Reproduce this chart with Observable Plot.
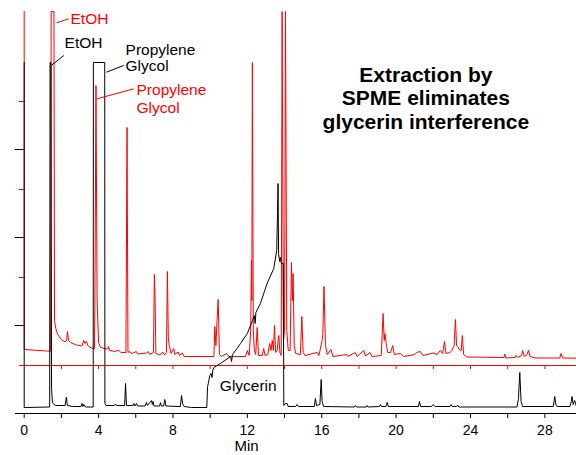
<!DOCTYPE html>
<html><head><meta charset="utf-8">
<script src="https://cdn.jsdelivr.net/npm/d3@7"></script>
<script src="https://cdn.jsdelivr.net/npm/@observablehq/plot@0.6"></script>
<style>body{margin:0;background:#fff;} svg{display:block;}</style>
</head><body><div id="chart"></div>
<script>
// Retention time (min) and detector signal (arbitrary units)
// Red trace: SPME extraction (signal relative to its own baseline reference)
const redTrace = [
  [0,354],[0,16],[1.2,14.5],[1.42,14.3],[1.45,354],[1.60,354],[1.63,45],[1.70,37],[1.80,31],[2.0,26],
  [2.2,23.5],[2.28,25],[2.33,34],[2.38,25],[2.5,23],[2.8,20.5],[3.1,19.5],[3.2,25],[3.27,22],[3.35,24],
  [3.42,20],[3.6,17.5],[3.78,17],[3.80,60],[3.86,280],[3.92,65],[4.0,23],[4.1,18.3],[4.3,17],[4.5,16.5],
  [4.53,19],[4.6,15],[4.9,14],[5.07,15.5],[5.2,13],[5.47,13],[5.53,238],[5.58,13],[5.65,14],[5.8,12],
  [6.03,14],[6.1,11.5],[6.57,12.5],[6.67,14],[6.75,11],[6.95,13],[7.0,91],[7.04,65],[7.08,12],[7.3,10.5],
  [7.45,13.5],[7.55,10.5],[7.65,13],[7.70,94],[7.75,28],[7.80,20],[7.9,12],[8.04,17],[8.1,11],[8.28,13.5],
  [8.35,10],[8.5,12.5],[8.6,9],[10.2,9],[10.25,39],[10.31,20],[10.37,45],[10.43,66],[10.5,11],[10.6,9],
  [10.9,12],[11.0,9],[11.9,9],[12.0,15],[12.1,10],[12.18,35],[12.22,105],[12.24,65],[12.27,303],[12.32,35],
  [12.38,15],[12.45,11],[12.53,38],[12.6,10],[12.8,10],[12.88,17],[12.95,10],[13.1,11],[13.2,22],[13.27,15],
  [13.34,25],[13.4,15],[13.46,40],[13.52,13],[13.6,15],[13.69,30],[13.75,13],[13.82,10],[13.87,354],[13.94,25],
  [14.0,35],[14.05,354],[14.12,35],[14.2,15],[14.3,15],[14.37,103],[14.42,65],[14.46,92],[14.52,20],[14.6,12],
  [14.85,11],[14.93,49],[15.0,13],[15.1,10],[15.75,13],[15.85,10],[16.02,25],[16.06,32],[16.12,79],[16.2,20],
  [16.3,11],[16.5,16],[16.6,9],[17.33,11],[17.4,9],[17.8,13],[17.9,9],[18.26,15],[18.35,9.5],[18.6,13],
  [18.7,9],[19.2,10],[19.3,52],[19.36,25],[19.4,32],[19.48,20],[19.55,13],[19.7,13],[19.82,20],[19.9,11],
  [20.23,12],[20.4,9],[21.0,11],[21.1,13],[21.3,14],[21.45,10],[22.0,12.5],[22.2,11],[22.38,15],[22.5,12],
  [22.6,24],[22.68,12],[22.9,13],[23.0,15],[23.12,20],[23.19,46],[23.25,20],[23.31,19],[23.4,16],[23.5,15],
  [23.56,30],[23.63,11],[23.8,8.5],[25.8,8],[25.84,11.5],[25.9,7.5],[26.4,8],[26.45,10],[26.55,8],[26.75,10],
  [26.8,15],[26.9,9],[27.05,11],[27.12,15.5],[27.2,9],[27.5,7.5],[28.8,7.5],[28.87,12],[28.95,7.5],[29.7,7.3]
];
// Black trace: direct injection (glycerin interference)
const blackTrace = [
  [0,351],[0,6],[1.37,6.5],[1.39,351],[1.44,351],[1.47,25],[1.52,11],[1.6,9],[1.7,8],[2.2,8],
  [2.27,16.5],[2.32,8],[2.6,7],[3.05,7],[3.11,10],[3.16,7],[3.2,9],[3.3,6.5],[3.71,6.5],[3.72,351],
  [4.33,351],[4.34,10],[4.4,8],[4.85,8],[4.91,9.5],[4.96,8],[5.4,8],[5.45,30],[5.5,8],[5.85,8],
  [5.9,10],[5.95,7.5],[6.04,10],[6.1,7.5],[6.5,7.5],[6.57,11],[6.63,8],[6.85,13],[6.89,9],[6.93,12],
  [6.98,7.5],[7.28,7.5],[7.33,11],[7.38,7.5],[7.5,7.5],[7.56,14],[7.62,7.5],[8.4,7],[8.46,18],[8.52,10],
  [8.6,7],[9.0,6],[9.82,6],[9.86,27],[9.9,30],[9.98,38],[10.05,40],[10.1,36],[10.14,43],[10.2,46],
  [10.55,50],[11.1,57],[11.15,52],[11.2,59],[11.45,65],[11.63,70],[12.0,80],[12.17,88],[12.38,98],[12.42,90],
  [12.46,101],[12.7,110],[13.06,130],[13.42,145],[13.58,163],[13.62,200],[13.65,230],[13.68,160],[13.74,152],[13.78,156],
  [13.83,150],[13.93,150],[13.96,8],[14.05,10],[14.14,10],[14.2,7],[14.6,7],[14.68,9],[14.75,7],[15.6,7],
  [15.66,15],[15.72,8],[15.9,9],[15.97,34],[16.02,12],[16.1,7],[17.75,6.5],[17.81,8],[17.87,6.5],[18.4,6.5],
  [18.44,8],[18.5,6.5],[19.1,7],[19.16,9],[19.22,7],[19.45,7],[19.52,11],[19.58,7],[21.2,7],[21.25,12],
  [21.32,7],[21.9,7],[21.99,9],[22.1,7],[22.9,7],[22.96,9],[23.02,7],[23.25,7],[23.31,8.5],[23.37,6.5],
  [26.5,6.5],[26.58,15],[26.65,41],[26.72,12],[26.8,7],[28.45,7],[28.53,17],[28.6,8],[28.7,7],[29.35,7],
  [29.42,12],[29.46,17],[29.52,9],[29.6,13],[29.7,7]
];
const redOffset = 48;
const minuteTicks = [0,2,4,6,8,10,12,14,16,18,20,22,24,26,28];
const minuteLabels = [0,4,8,12,16,20,24,28];
const levelTicks = [88,176,264];
// Peak labels: text, colour, label anchor (time, level), leader from (time, level)
const labelText = ["EtOH","EtOH","Propylene\nGlycol","Propylene\nGlycol","Glycerin"];
const labelColor = ["red","black","black","red","black"];
const labelTime = [2.49,2.17,5.45,6.04,10.52];
const labelLevel = [394,370,356,315.5,27];
const labelLineHeight = [1,1,1.08,1.19,1];
const leaderFrom = [[1.74,390.7],[1.45,348],[4.42,341.3],[3.92,314.7],null];
const leaderTo = [[2.40,394.7],[2.13,358],[5.35,348],[5.89,324.7],null];
const titleText = "Extraction by\nSPME eliminates\nglycerin interference";

const redData = redTrace.map(([t, v]) => ({t, v: v + redOffset}));
const blackData = blackTrace.map(([t, v]) => ({t, v}));
const labels = labelText.map((text, i) => ({text, color: labelColor[i], t: labelTime[i], v: labelLevel[i], lh: labelLineHeight[i]}));
const leaders = leaderFrom.map((f, i) => f ? {x1: f[0], y1: f[1], x2: leaderTo[i][0], y2: leaderTo[i][1], color: labelColor[i]} : null).filter(Boolean);

const font = "'Liberation Sans', Arial, Helvetica, sans-serif";
const plot = Plot.plot({
  width: 576, height: 455,
  marginLeft: 23.7, marginRight: 0, marginTop: 10, marginBottom: 42,
  style: {fontFamily: font, background: "white"},
  x: {domain: [0, 29.7]},
  y: {domain: [0, 403]},
  marks: [
    Plot.axisY(levelTicks, {tickSize: 9, tickFormat: () => "", label: null, stroke: "black"}),
    Plot.axisY(levelTicks.map(d => d + redOffset), {tickSize: 5, tickFormat: () => "", label: null, stroke: "red"}),
    Plot.axisX(minuteTicks, {tickSize: 5, tickPadding: 7, fontSize: 14, tickFormat: d => minuteLabels.includes(d) ? String(d) : "", label: null, fill: "black"}),
    Plot.ruleY([0], {x1: -0.47, x2: 29.7, stroke: "black", strokeWidth: 1.2}),
    Plot.ruleY([redOffset], {x1: -0.25, x2: 29.7, stroke: "red", strokeWidth: 1}),
    Plot.ruleX(minuteTicks.filter(d => d > 0), {y1: redOffset, y2: redOffset - 4, stroke: "red"}),
    Plot.line(redData, {x: "t", y: "v", stroke: "red", strokeWidth: 1}),
    Plot.line(blackData, {x: "t", y: "v", stroke: "black", strokeWidth: 1}),
    Plot.link(leaders, {x1: "x1", y1: "y1", x2: "x2", y2: "y2", stroke: "color", strokeWidth: 1}),
    ...labels.map(d => Plot.text([d], {x: "t", y: "v", text: "text", fill: d.color, textAnchor: "start", fontSize: 15.5, lineHeight: d.lh})),
    Plot.text([titleText], {x: 21.6, y: 316, text: d => d, fontSize: 21, fontWeight: "bold", lineHeight: 1.12, textAnchor: "middle", fill: "black"}),
    Plot.text(["Min"], {x: 11.96, y: -33, text: d => d, fontSize: 15, fill: "black"}),
    Plot.text(["795-0441"], {x: 26.5, y: -47, text: d => d, fontSize: 14, textAnchor: "start", fill: "black"})
  ]
});
document.getElementById("chart").appendChild(plot);
</script>
</body></html>
